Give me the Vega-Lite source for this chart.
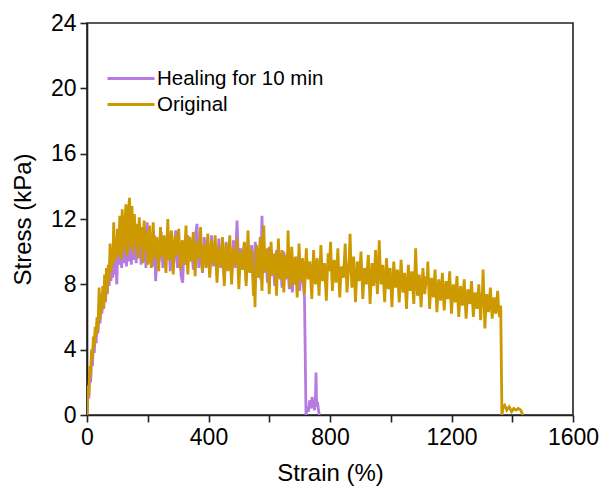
{
  "$schema": "https://vega.github.io/schema/vega-lite/v6.json",
  "width": 486,
  "height": 392,
  "autosize": "none",
  "padding": {"left": 87, "top": 23, "right": 31, "bottom": 72},
  "background": "white",
  "config": {
    "font": "Liberation Sans",
    "view": {"stroke": "#222", "strokeWidth": 1.6},
    "axis": {
      "grid": false,
      "domainColor": "#222",
      "domainWidth": 1.6,
      "tickColor": "#222",
      "tickWidth": 1.6,
      "tickSize": 7,
      "labelFont": "Liberation Sans",
      "labelFontSize": 23,
      "labelColor": "black",
      "titleFont": "Liberation Sans",
      "titleFontSize": 24,
      "titleFontWeight": "normal",
      "titleColor": "black"
    },
    "legend": {
      "labelFont": "Liberation Sans",
      "labelFontSize": 20.5,
      "labelColor": "black",
      "labelLimit": 400
    }
  },
  "datasets": {
    "orig": [
      {"strain":0,"stress":0},{"strain":3,"stress":1.8},{"strain":6,"stress":1.2},{"strain":9,"stress":3.0},{"strain":12,"stress":2.4},{"strain":15,"stress":4.0},{"strain":18,"stress":3.4},{"strain":21,"stress":4.8},{"strain":24,"stress":4.2},{"strain":27,"stress":5.4},{"strain":30,"stress":4.8},{"strain":33,"stress":6.0},{"strain":36,"stress":5.2},{"strain":40,"stress":7.8},{"strain":43,"stress":5.9},{"strain":46,"stress":7.4},{"strain":49,"stress":6.4},{"strain":52,"stress":7.9},{"strain":55,"stress":6.6},{"strain":58,"stress":8.6},{"strain":61,"stress":7.0},{"strain":64,"stress":9.0},{"strain":67,"stress":7.6},{"strain":70,"stress":9.2},{"strain":73,"stress":8.2},{"strain":76,"stress":10.5},{"strain":79,"stress":8.8},{"strain":82,"stress":10.2},{"strain":85,"stress":9.2},{"strain":88,"stress":11.8},{"strain":91,"stress":9.4},{"strain":94,"stress":10.8},{"strain":97,"stress":9.6},{"strain":100,"stress":11.4},{"strain":104,"stress":9.8},{"strain":108,"stress":12.2},{"strain":112,"stress":9.5},{"strain":116,"stress":12.6},{"strain":120,"stress":10.0},{"strain":124,"stress":11.2},{"strain":128,"stress":12.9},{"strain":132,"stress":9.7},{"strain":136,"stress":12.4},{"strain":140,"stress":13.3},{"strain":144,"stress":10.2},{"strain":148,"stress":12.8},{"strain":152,"stress":9.9},{"strain":156,"stress":12.3},{"strain":160,"stress":10.4},{"strain":164,"stress":11.7},{"strain":168,"stress":9.6},{"strain":172,"stress":12.1},{"strain":176,"stress":10.3},{"strain":180,"stress":11.5},{"strain":184,"stress":9.3},{"strain":188,"stress":11.9},{"strain":192,"stress":10.1},{"strain":196,"stress":11.2},{"strain":200,"stress":9.2},
      {"strain":203,"stress":10.4},{"strain":206,"stress":11.6},{"strain":209,"stress":9.8},{"strain":212,"stress":9.0},{"strain":215,"stress":10.6},{"strain":218,"stress":11.8},{"strain":221,"stress":10.1},{"strain":224,"stress":9.6},{"strain":227,"stress":10.3},{"strain":230,"stress":10.9},{"strain":233,"stress":9.5},{"strain":236,"stress":8.8},{"strain":239,"stress":10.2},{"strain":242,"stress":11.5},{"strain":245,"stress":10.0},{"strain":248,"stress":9.7},{"strain":251,"stress":10.5},{"strain":254,"stress":11.0},{"strain":257,"stress":9.6},{"strain":260,"stress":8.7},{"strain":263,"stress":10.4},{"strain":266,"stress":12.0},{"strain":269,"stress":10.2},{"strain":272,"stress":9.5},{"strain":275,"stress":10.6},{"strain":278,"stress":11.3},{"strain":281,"stress":9.7},{"strain":284,"stress":8.6},{"strain":287,"stress":10.1},{"strain":290,"stress":11.0},{"strain":293,"stress":10.3},{"strain":296,"stress":9.8},{"strain":299,"stress":10.7},{"strain":302,"stress":11.4},{"strain":305,"stress":9.9},{"strain":308,"stress":8.9},{"strain":311,"stress":10.2},{"strain":314,"stress":10.7},{"strain":317,"stress":9.6},{"strain":320,"stress":9.2},{"strain":323,"stress":10.5},{"strain":326,"stress":11.6},{"strain":329,"stress":9.8},{"strain":332,"stress":8.6},{"strain":335,"stress":10.0},{"strain":338,"stress":10.9},{"strain":341,"stress":10.1},{"strain":344,"stress":9.4},{"strain":347,"stress":10.4},{"strain":350,"stress":11.2},{"strain":353,"stress":9.7},{"strain":356,"stress":8.5},{"strain":359,"stress":9.9},{"strain":362,"stress":10.6},{"strain":365,"stress":10.0},{"strain":368,"stress":9.6},{"strain":371,"stress":10.5},{"strain":374,"stress":11.5},{"strain":377,"stress":9.9},{"strain":380,"stress":8.8},{"strain":383,"stress":9.8},{"strain":386,"stress":10.4},{"strain":389,"stress":9.5},{"strain":392,"stress":9.0},{"strain":395,"stress":10.2},{"strain":398,"stress":11.1},
      {"strain":401,"stress":9.5},{"strain":404,"stress":8.4},{"strain":407,"stress":9.8},{"strain":410,"stress":10.7},{"strain":413,"stress":9.9},{"strain":416,"stress":9.3},{"strain":419,"stress":10.1},{"strain":422,"stress":11.0},{"strain":425,"stress":9.4},{"strain":428,"stress":8.1},{"strain":431,"stress":9.5},{"strain":434,"stress":10.3},{"strain":437,"stress":9.8},{"strain":440,"stress":9.1},{"strain":443,"stress":10.0},{"strain":446,"stress":10.9},{"strain":449,"stress":9.2},{"strain":452,"stress":7.9},{"strain":455,"stress":9.3},{"strain":458,"stress":10.5},{"strain":461,"stress":9.6},{"strain":464,"stress":8.8},{"strain":467,"stress":9.9},{"strain":470,"stress":11.0},{"strain":473,"stress":9.3},{"strain":476,"stress":8.0},{"strain":479,"stress":9.4},{"strain":482,"stress":10.2},{"strain":485,"stress":9.7},{"strain":488,"stress":9.2},{"strain":491,"stress":10.0},{"strain":494,"stress":10.8},{"strain":497,"stress":9.1},{"strain":500,"stress":7.7},{"strain":503,"stress":9.0},{"strain":506,"stress":10.0},{"strain":509,"stress":9.4},{"strain":512,"stress":8.9},{"strain":515,"stress":9.8},{"strain":518,"stress":10.6},{"strain":521,"stress":9.0},{"strain":524,"stress":7.9},{"strain":527,"stress":9.5},{"strain":530,"stress":11.3},{"strain":533,"stress":9.6},{"strain":536,"stress":8.7},{"strain":539,"stress":9.4},{"strain":542,"stress":10.1},{"strain":545,"stress":8.9},{"strain":548,"stress":7.3},{"strain":551,"stress":8.2},{"strain":553,"stress":6.6},{"strain":556,"stress":9.0},{"strain":558,"stress":10.4},{"strain":561,"stress":9.3},{"strain":564,"stress":8.4},{"strain":567,"stress":9.6},{"strain":570,"stress":10.9},{"strain":573,"stress":9.0},{"strain":576,"stress":7.6},{"strain":579,"stress":9.4},{"strain":582,"stress":11.6},{"strain":585,"stress":9.7},{"strain":588,"stress":8.8},{"strain":591,"stress":9.5},{"strain":594,"stress":10.2},{"strain":597,"stress":8.7},
      {"strain":600,"stress":7.4},{"strain":603,"stress":9.1},{"strain":606,"stress":10.6},{"strain":609,"stress":9.4},{"strain":612,"stress":8.6},{"strain":615,"stress":9.3},{"strain":618,"stress":9.9},{"strain":621,"stress":8.6},{"strain":624,"stress":7.3},{"strain":627,"stress":9.0},{"strain":630,"stress":10.8},{"strain":633,"stress":9.3},{"strain":636,"stress":8.3},{"strain":639,"stress":9.2},{"strain":642,"stress":10.1},{"strain":645,"stress":8.7},{"strain":648,"stress":7.5},{"strain":651,"stress":8.9},{"strain":654,"stress":9.8},{"strain":656,"stress":9.0},{"strain":658,"stress":8.4},{"strain":660,"stress":9.6},{"strain":662,"stress":11.3},{"strain":665,"stress":9.2},{"strain":668,"stress":7.8},{"strain":671,"stress":9.0},{"strain":674,"stress":10.3},{"strain":677,"stress":9.1},{"strain":680,"stress":8.0},{"strain":683,"stress":8.9},{"strain":686,"stress":9.7},{"strain":689,"stress":8.4},{"strain":692,"stress":7.2},{"strain":695,"stress":8.8},{"strain":698,"stress":10.5},{"strain":701,"stress":9.2},{"strain":704,"stress":8.2},{"strain":707,"stress":9.0},{"strain":710,"stress":9.6},{"strain":713,"stress":8.5},{"strain":716,"stress":7.4},{"strain":719,"stress":8.9},{"strain":722,"stress":10.2},{"strain":725,"stress":9.1},{"strain":728,"stress":8.3},{"strain":731,"stress":8.9},{"strain":734,"stress":9.4},{"strain":737,"stress":8.2},{"strain":740,"stress":7.1},{"strain":743,"stress":8.7},{"strain":746,"stress":10.1},{"strain":749,"stress":9.0},{"strain":752,"stress":8.0},{"strain":755,"stress":8.8},{"strain":758,"stress":9.6},{"strain":761,"stress":8.4},{"strain":764,"stress":7.3},{"strain":767,"stress":8.8},{"strain":770,"stress":10.4},{"strain":773,"stress":9.1},{"strain":776,"stress":8.2},{"strain":779,"stress":8.7},{"strain":782,"stress":9.3},{"strain":785,"stress":8.1},{"strain":788,"stress":7.0},{"strain":791,"stress":8.6},{"strain":794,"stress":9.9},{"strain":797,"stress":8.8},
      {"strain":802,"stress":10.6},{"strain":805,"stress":8.9},{"strain":808,"stress":7.6},{"strain":811,"stress":8.7},{"strain":814,"stress":9.5},{"strain":817,"stress":8.8},{"strain":820,"stress":8.1},{"strain":823,"stress":9.1},{"strain":826,"stress":10.2},{"strain":829,"stress":8.6},{"strain":832,"stress":7.2},{"strain":835,"stress":8.3},{"strain":838,"stress":9.1},{"strain":841,"stress":8.7},{"strain":844,"stress":8.4},{"strain":847,"stress":9.4},{"strain":850,"stress":10.5},{"strain":853,"stress":8.9},{"strain":856,"stress":7.5},{"strain":859,"stress":8.4},{"strain":862,"stress":9.2},{"strain":864,"stress":9.8},{"strain":866,"stress":11.1},{"strain":869,"stress":9.2},{"strain":872,"stress":7.8},{"strain":875,"stress":8.8},{"strain":878,"stress":9.7},{"strain":881,"stress":8.3},{"strain":884,"stress":6.9},{"strain":887,"stress":8.2},{"strain":890,"stress":9.4},{"strain":893,"stress":8.8},{"strain":896,"stress":8.2},{"strain":899,"stress":9.1},{"strain":902,"stress":10.0},{"strain":905,"stress":8.6},{"strain":908,"stress":7.1},{"strain":911,"stress":8.1},{"strain":914,"stress":9.0},{"strain":917,"stress":8.5},{"strain":920,"stress":8.0},{"strain":923,"stress":8.9},{"strain":926,"stress":9.8},{"strain":929,"stress":8.3},{"strain":932,"stress":6.8},{"strain":935,"stress":8.1},{"strain":938,"stress":9.3},{"strain":941,"stress":8.6},{"strain":944,"stress":7.9},{"strain":947,"stress":8.9},{"strain":950,"stress":10.1},{"strain":953,"stress":8.7},{"strain":956,"stress":7.4},{"strain":959,"stress":8.8},{"strain":962,"stress":10.7},{"strain":965,"stress":9.2},{"strain":968,"stress":8.0},{"strain":971,"stress":8.6},{"strain":974,"stress":9.2},{"strain":977,"stress":8.0},{"strain":980,"stress":6.9},{"strain":983,"stress":8.3},{"strain":986,"stress":9.6},{"strain":989,"stress":8.6},{"strain":992,"stress":7.7},{"strain":995,"stress":8.4},{"strain":998,"stress":9.0},
      {"strain":1001,"stress":7.8},{"strain":1004,"stress":6.6},{"strain":1007,"stress":8.1},{"strain":1010,"stress":9.4},{"strain":1013,"stress":8.5},{"strain":1016,"stress":7.8},{"strain":1019,"stress":8.4},{"strain":1022,"stress":8.9},{"strain":1025,"stress":7.9},{"strain":1028,"stress":6.9},{"strain":1031,"stress":8.2},{"strain":1034,"stress":9.5},{"strain":1037,"stress":8.4},{"strain":1040,"stress":7.5},{"strain":1043,"stress":8.1},{"strain":1046,"stress":8.7},{"strain":1049,"stress":7.6},{"strain":1052,"stress":6.5},{"strain":1055,"stress":7.9},{"strain":1058,"stress":9.2},{"strain":1061,"stress":8.3},{"strain":1064,"stress":7.6},{"strain":1067,"stress":8.2},{"strain":1070,"stress":8.8},{"strain":1073,"stress":7.7},{"strain":1076,"stress":6.8},{"strain":1079,"stress":8.4},{"strain":1082,"stress":10.2},{"strain":1085,"stress":8.6},{"strain":1088,"stress":7.3},{"strain":1091,"stress":8.0},{"strain":1094,"stress":8.6},{"strain":1097,"stress":7.6},{"strain":1100,"stress":6.6},{"strain":1103,"stress":7.9},{"strain":1106,"stress":9.0},{"strain":1109,"stress":8.1},{"strain":1112,"stress":7.4},{"strain":1115,"stress":8.0},{"strain":1118,"stress":8.5},{"strain":1120,"stress":8.0},{"strain":1122,"stress":9.4},{"strain":1125,"stress":7.9},{"strain":1128,"stress":6.5},{"strain":1131,"stress":7.6},{"strain":1134,"stress":8.4},{"strain":1137,"stress":7.8},{"strain":1140,"stress":7.2},{"strain":1143,"stress":8.1},{"strain":1146,"stress":8.9},{"strain":1149,"stress":7.5},{"strain":1152,"stress":6.3},{"strain":1155,"stress":7.4},{"strain":1158,"stress":8.3},{"strain":1161,"stress":7.6},{"strain":1164,"stress":7.0},{"strain":1167,"stress":7.9},{"strain":1170,"stress":8.7},{"strain":1173,"stress":7.5},{"strain":1176,"stress":6.4},{"strain":1179,"stress":7.4},{"strain":1182,"stress":8.2},{"strain":1185,"stress":7.6},{"strain":1188,"stress":7.1},{"strain":1191,"stress":7.9},{"strain":1194,"stress":8.8},{"strain":1197,"stress":7.4},
      {"strain":1200,"stress":6.2},{"strain":1203,"stress":7.2},{"strain":1206,"stress":8.0},{"strain":1209,"stress":7.4},{"strain":1212,"stress":6.9},{"strain":1215,"stress":7.7},{"strain":1218,"stress":8.5},{"strain":1221,"stress":7.1},{"strain":1224,"stress":6.0},{"strain":1227,"stress":7.0},{"strain":1230,"stress":7.9},{"strain":1233,"stress":7.2},{"strain":1236,"stress":6.7},{"strain":1239,"stress":7.5},{"strain":1242,"stress":8.3},{"strain":1245,"stress":7.0},{"strain":1248,"stress":5.9},{"strain":1251,"stress":6.9},{"strain":1254,"stress":7.7},{"strain":1257,"stress":7.2},{"strain":1260,"stress":6.8},{"strain":1263,"stress":7.4},{"strain":1266,"stress":8.2},{"strain":1269,"stress":7.0},{"strain":1272,"stress":6.0},{"strain":1275,"stress":6.9},{"strain":1278,"stress":7.5},{"strain":1281,"stress":7.0},{"strain":1284,"stress":6.5},{"strain":1287,"stress":7.2},{"strain":1290,"stress":8.0},{"strain":1293,"stress":6.9},{"strain":1296,"stress":5.8},{"strain":1299,"stress":7.0},{"strain":1302,"stress":7.6},{"strain":1304,"stress":8.9},{"strain":1307,"stress":7.1},{"strain":1310,"stress":5.3},{"strain":1313,"stress":6.6},{"strain":1316,"stress":7.4},{"strain":1319,"stress":6.9},{"strain":1322,"stress":6.3},{"strain":1325,"stress":7.1},{"strain":1328,"stress":7.8},{"strain":1331,"stress":6.8},{"strain":1334,"stress":5.9},{"strain":1337,"stress":6.7},{"strain":1340,"stress":7.2},{"strain":1343,"stress":6.6},{"strain":1346,"stress":6.2},{"strain":1349,"stress":6.9},{"strain":1352,"stress":7.6},{"strain":1355,"stress":6.6},{"strain":1358,"stress":6.0},{"strain":1362,"stress":6.7},{"strain":1366,"stress":0},{"strain":1370,"stress":0.5},{"strain":1375,"stress":0.6},{"strain":1382,"stress":0.3},{"strain":1390,"stress":0.5},{"strain":1398,"stress":0.2},{"strain":1405,"stress":0.4},{"strain":1412,"stress":0.3},{"strain":1420,"stress":0.4},{"strain":1428,"stress":0.3},{"strain":1435,"stress":0.0}
    ],
    "heal": [
      {"strain":0,"stress":0},{"strain":3,"stress":1.5},{"strain":6,"stress":1.0},{"strain":9,"stress":2.6},{"strain":12,"stress":2.0},{"strain":15,"stress":3.6},{"strain":18,"stress":3.0},{"strain":21,"stress":4.4},{"strain":24,"stress":3.8},{"strain":27,"stress":5.0},{"strain":30,"stress":4.4},{"strain":33,"stress":5.6},{"strain":36,"stress":5.0},{"strain":40,"stress":6.8},{"strain":43,"stress":5.6},{"strain":46,"stress":7.0},{"strain":49,"stress":6.2},{"strain":52,"stress":7.5},{"strain":55,"stress":6.5},{"strain":58,"stress":8.2},{"strain":61,"stress":6.9},{"strain":64,"stress":8.6},{"strain":67,"stress":7.4},{"strain":70,"stress":9.0},{"strain":73,"stress":7.9},{"strain":76,"stress":9.6},{"strain":79,"stress":8.2},{"strain":82,"stress":9.8},{"strain":85,"stress":8.4},{"strain":88,"stress":10.4},{"strain":91,"stress":8.6},{"strain":94,"stress":10.2},{"strain":98,"stress":8.0},
      {"strain":102,"stress":10.6},{"strain":106,"stress":9.2},{"strain":110,"stress":11.0},{"strain":114,"stress":9.0},{"strain":118,"stress":10.4},{"strain":122,"stress":9.3},{"strain":126,"stress":11.2},{"strain":130,"stress":9.1},{"strain":134,"stress":10.6},{"strain":138,"stress":9.4},{"strain":142,"stress":11.4},{"strain":146,"stress":9.2},{"strain":150,"stress":10.8},{"strain":154,"stress":9.5},{"strain":158,"stress":11.6},{"strain":162,"stress":9.3},{"strain":166,"stress":10.9},{"strain":170,"stress":9.6},{"strain":174,"stress":11.3},{"strain":178,"stress":9.2},{"strain":182,"stress":10.5},{"strain":186,"stress":9.4},{"strain":190,"stress":11.5},{"strain":194,"stress":9.0},{"strain":198,"stress":11.8},
      {"strain":204,"stress":9.3},{"strain":210,"stress":10.8},{"strain":216,"stress":9.1},{"strain":222,"stress":11.0},{"strain":226,"stress":8.2},{"strain":232,"stress":10.4},{"strain":238,"stress":9.4},{"strain":244,"stress":11.2},{"strain":250,"stress":9.0},{"strain":256,"stress":10.6},{"strain":262,"stress":9.5},{"strain":268,"stress":11.1},{"strain":274,"stress":8.8},{"strain":280,"stress":10.7},{"strain":286,"stress":9.3},{"strain":292,"stress":11.3},{"strain":298,"stress":9.0},{"strain":304,"stress":10.5},{"strain":310,"stress":8.5},{"strain":315,"stress":8.1},{"strain":320,"stress":10.6},{"strain":326,"stress":9.2},{"strain":332,"stress":11.0},{"strain":338,"stress":9.4},{"strain":344,"stress":10.4},{"strain":350,"stress":8.9},{"strain":356,"stress":10.8},{"strain":362,"stress":11.7},{"strain":368,"stress":9.0},{"strain":374,"stress":10.5},{"strain":380,"stress":8.7},{"strain":386,"stress":10.9},{"strain":392,"stress":9.2},{"strain":398,"stress":10.3},
      {"strain":404,"stress":8.6},{"strain":410,"stress":11.0},{"strain":416,"stress":9.1},{"strain":422,"stress":10.2},{"strain":428,"stress":8.5},{"strain":434,"stress":10.8},{"strain":440,"stress":9.0},{"strain":446,"stress":10.1},{"strain":452,"stress":8.3},{"strain":458,"stress":10.6},{"strain":464,"stress":9.1},{"strain":470,"stress":10.4},{"strain":476,"stress":8.4},{"strain":482,"stress":10.7},{"strain":488,"stress":9.0},{"strain":494,"stress":11.9},{"strain":500,"stress":8.6},{"strain":506,"stress":10.2},{"strain":512,"stress":8.9},{"strain":518,"stress":10.5},{"strain":524,"stress":8.2},{"strain":530,"stress":10.0},{"strain":536,"stress":8.8},{"strain":542,"stress":10.4},{"strain":548,"stress":8.0},{"strain":554,"stress":10.6},{"strain":560,"stress":8.6},{"strain":566,"stress":10.0},{"strain":572,"stress":8.3},{"strain":576,"stress":12.2},{"strain":582,"stress":8.7},{"strain":588,"stress":10.1},{"strain":594,"stress":8.1},
      {"strain":600,"stress":10.3},{"strain":606,"stress":8.5},{"strain":612,"stress":9.8},{"strain":618,"stress":7.9},{"strain":624,"stress":10.1},{"strain":630,"stress":8.4},{"strain":636,"stress":9.7},{"strain":642,"stress":7.8},{"strain":648,"stress":10.0},{"strain":654,"stress":8.3},{"strain":660,"stress":9.6},{"strain":666,"stress":7.7},{"strain":672,"stress":9.9},{"strain":676,"stress":7.5},{"strain":682,"stress":9.4},{"strain":688,"stress":8.0},{"strain":694,"stress":9.7},{"strain":700,"stress":7.6},{"strain":706,"stress":9.3},{"strain":712,"stress":8.0},{"strain":716,"stress":7.2},{"strain":719,"stress":3.0},{"strain":721,"stress":0},{"strain":725,"stress":0.5},{"strain":729,"stress":0.2},{"strain":733,"stress":0.9},{"strain":737,"stress":0.4},{"strain":741,"stress":1.1},{"strain":745,"stress":0.6},{"strain":749,"stress":0.3},{"strain":752,"stress":1.0},{"strain":754,"stress":2.6},{"strain":756,"stress":0.5},{"strain":759,"stress":0.8},{"strain":762,"stress":0.3},{"strain":765,"stress":0}
    ]
  },
  "layer": [
    {
      "data": {"name": "heal"},
      "transform": [{"calculate": "'Healing for 10 min'", "as": "series"}],
      "mark": {"type": "line", "strokeWidth": 2.8, "clip": true},
      "encoding": {
        "x": {"field": "strain", "type": "quantitative", "scale": {"domain": [0, 1600], "nice": false},
          "axis": {"title": "Strain (%)", "format": "d", "values": [0,200,400,600,800,1000,1200,1400,1600], "labelExpr": "datum.value % 400 === 0 ? datum.label : ''", "labelPadding": 4, "titlePadding": 12, "labelFlush": false}},
        "y": {"field": "stress", "type": "quantitative", "scale": {"domain": [0, 24], "nice": false},
          "axis": {"title": "Stress (kPa)", "values": [0,4,8,12,16,20,24], "labelPadding": 4, "titlePadding": 15}},
        "color": {"field": "series", "type": "nominal",
          "scale": {"domain": ["Healing for 10 min", "Original"], "range": ["#b57be0", "#cc9900"]},
          "legend": {"title": null, "orient": "none", "legendX": 19, "legendY": 44, "symbolType": "M-1,0L3.7,0", "symbolSize": 400, "symbolStrokeWidth": 2.8, "labelOffset": 28, "rowPadding": 4}}
      }
    },
    {
      "data": {"name": "orig"},
      "transform": [{"calculate": "'Original'", "as": "series"}],
      "mark": {"type": "line", "strokeWidth": 2.8, "clip": true},
      "encoding": {
        "x": {"field": "strain", "type": "quantitative"},
        "y": {"field": "stress", "type": "quantitative"},
        "color": {"field": "series", "type": "nominal"}
      }
    }
  ]
}
